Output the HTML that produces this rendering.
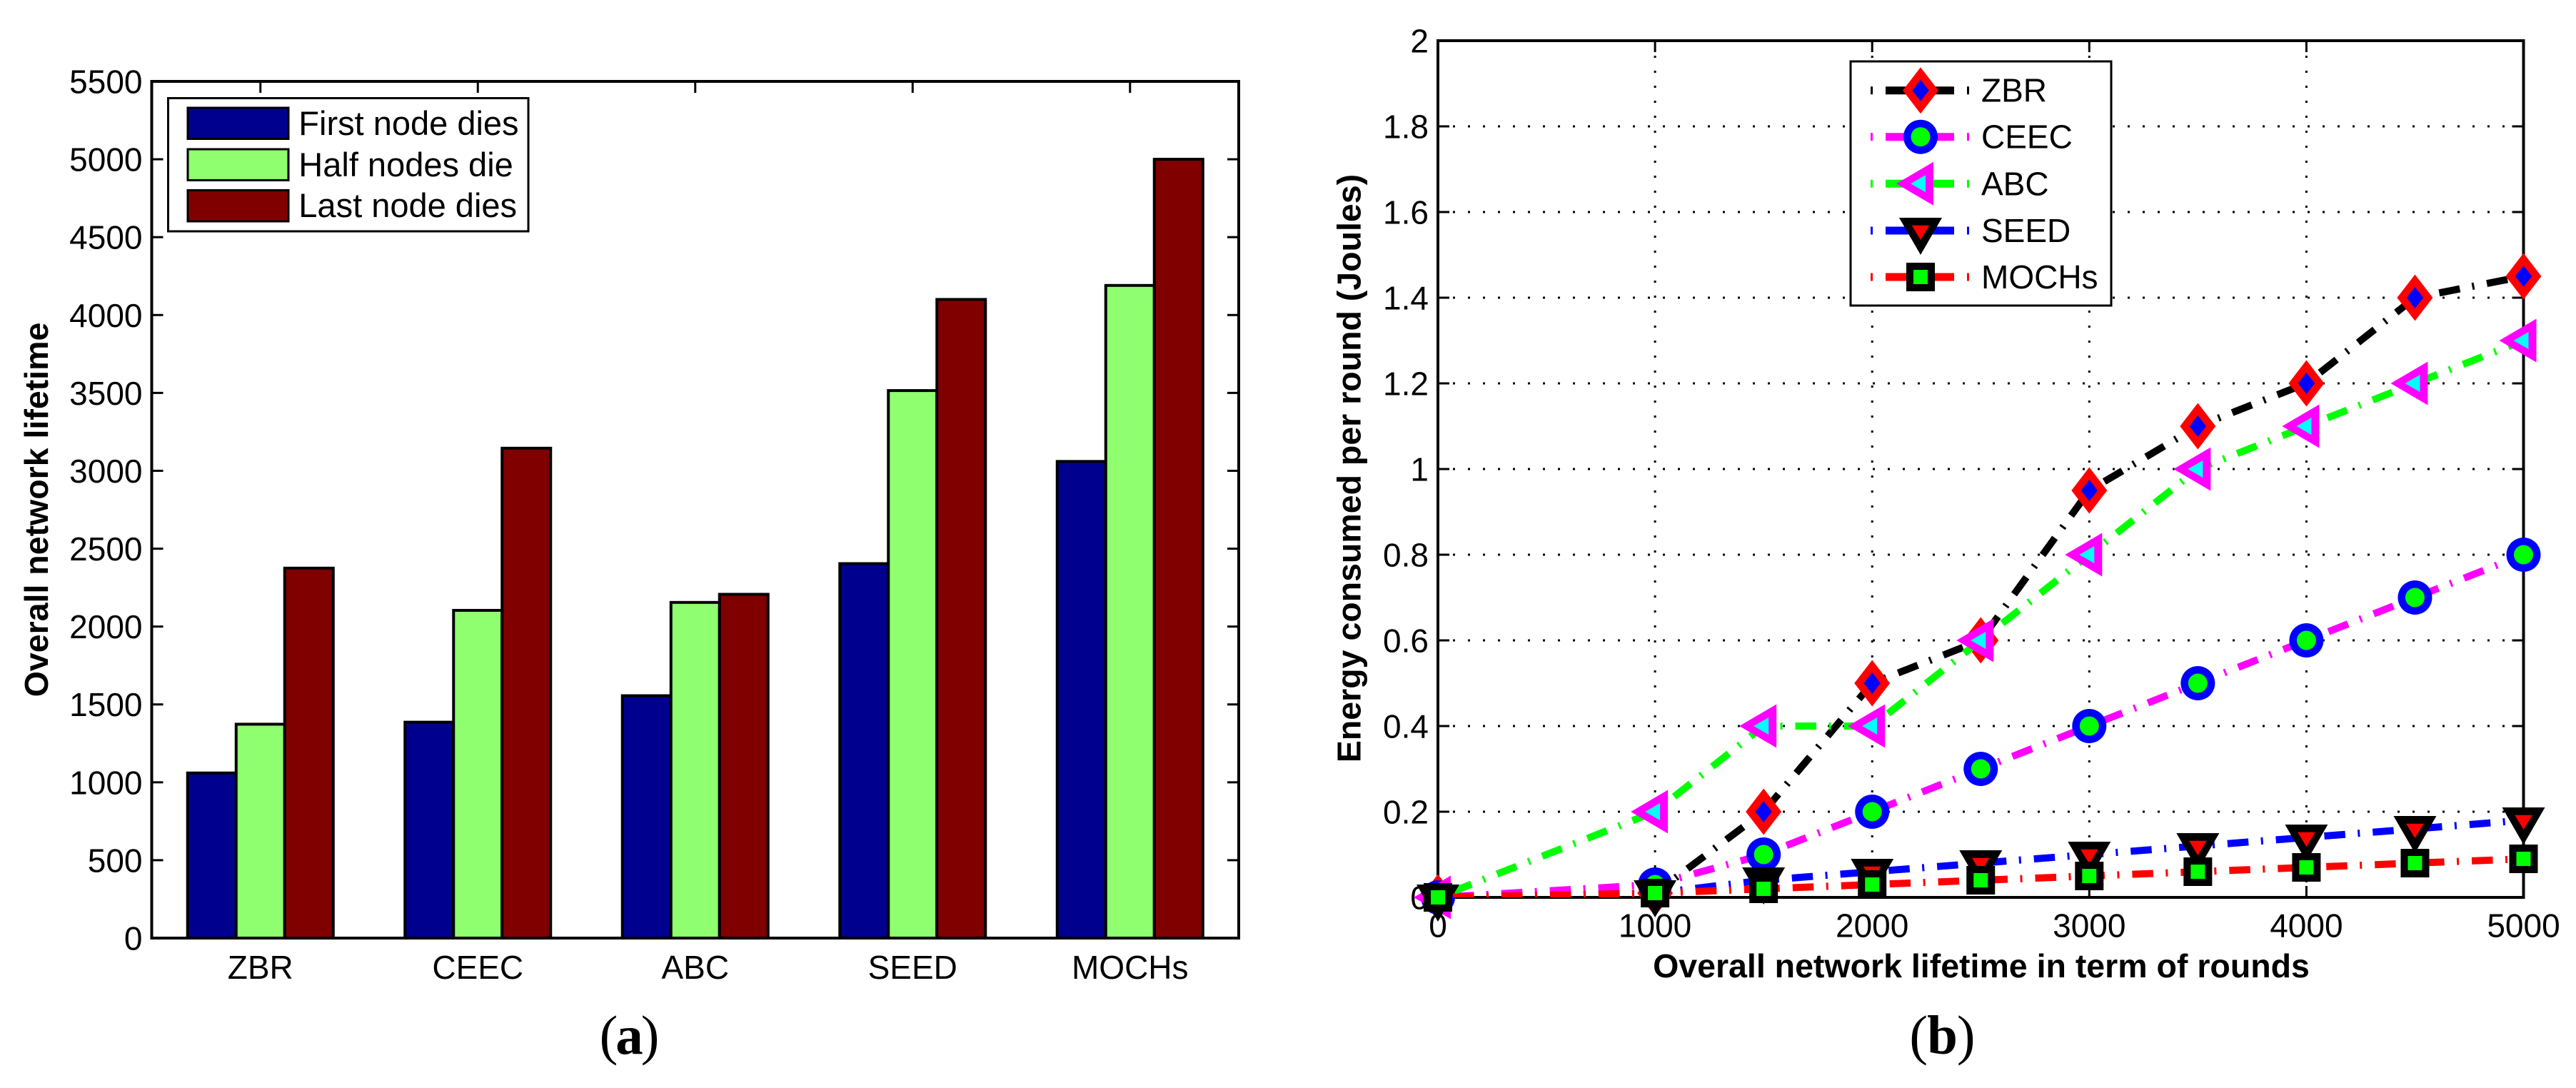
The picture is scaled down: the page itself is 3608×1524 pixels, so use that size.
<!DOCTYPE html>
<html lang="en">
<head>
<meta charset="utf-8">
<title>Network lifetime and energy consumption charts</title>
<style>
html,body{margin:0;padding:0;background:#fff;}
svg{display:block;}
text{font-family:"Liberation Sans",sans-serif;fill:#000;}
.tick{font-size:46px;}
.legend-a{font-size:47px;}
.title{font-size:46.5px;font-weight:bold;}
.cap{font-family:"Liberation Serif",serif;font-size:77px;}
</style>
</head>
<body>
<svg id="figure" xmlns="http://www.w3.org/2000/svg" width="3608" height="1524" viewBox="0 0 3608 1524">
  <defs>
    <clipPath id="plot-clip"><rect x="2014" y="57" width="1520.5" height="1200"/></clipPath>
  </defs>
  <rect x="0" y="0" width="3608" height="1524" fill="#fff"/>
  <g id="chart-a"></g>
  <g id="chart-b"></g>
  <text class="title" transform="translate(67,714) rotate(-90)" text-anchor="middle">Overall network lifetime</text>
  <text class="title" transform="translate(1905.5,656) rotate(-90)" text-anchor="middle">Energy consumed per round (Joules)</text>
  <text class="title" x="2775" y="1369" text-anchor="middle">Overall network lifetime in term of rounds</text>
  <text class="cap" x="880" y="1476" text-anchor="middle" letter-spacing="-3">(<tspan font-weight="bold">a</tspan>)</text>
  <text class="cap" x="2720" y="1476" text-anchor="middle" letter-spacing="-1">(<tspan font-weight="bold">b</tspan>)</text>
</svg>
<script>
/* ---------- bar chart data ---------- */
const barCategories = ['ZBR', 'CEEC', 'ABC', 'SEED', 'MOCHs'];
const barSeriesNames = ['First node dies', 'Half nodes die', 'Last node dies'];
const firstNodeDies = [1060, 1386, 1556, 2404, 3060];
const halfNodesDie = [1373, 2104, 2155, 3515, 4190];
const lastNodeDies = [2375, 3145, 2207, 4100, 5000];
const barYTicks = [0, 500, 1000, 1500, 2000, 2500, 3000, 3500, 4000, 4500, 5000, 5500];

/* ---------- line chart data ---------- */
const rounds = [0, 1000, 1500, 2000, 2500, 3000, 3500, 4000, 4500, 5000];
const lineSeriesNames = ['ZBR', 'CEEC', 'ABC', 'SEED', 'MOCHs'];
const zbrEnergy = [0, 0.01, 0.2, 0.5, 0.6, 0.95, 1.1, 1.2, 1.4, 1.45];
const ceecEnergy = [0, 0.03, 0.1, 0.2, 0.3, 0.4, 0.5, 0.6, 0.7, 0.8];
const abcEnergy = [0, 0.2, 0.4, 0.4, 0.6, 0.8, 1, 1.1, 1.2, 1.3];
const seedEnergy = [0, 0.01, 0.04, 0.06, 0.08, 0.1, 0.12, 0.14, 0.16, 0.18];
const mochsEnergy = [0, 0.01, 0.02, 0.03, 0.04, 0.05, 0.06, 0.07, 0.08, 0.09];
const lineXTicks = [0, 1000, 2000, 3000, 4000, 5000];
const lineYTicks = [0, 0.2, 0.4, 0.6, 0.8, 1, 1.2, 1.4, 1.6, 1.8, 2];

const NS = 'http://www.w3.org/2000/svg';
function mk(parent, tag, attrs, txt) {
  const el = document.createElementNS(NS, tag);
  for (const k in attrs) el.setAttribute(k, attrs[k]);
  if (txt !== undefined) el.textContent = txt;
  parent.appendChild(el);
  return el;
}
function named(el, name) {
  
  
  return el;
}
function slug(s) { return String(s).toLowerCase().replace(/[^a-z0-9]+/g, '-'); }
function axisLine(g, x1, y1, x2, y2, name) {
  return named(mk(g, 'line', {x1, y1, x2, y2, stroke: '#000', 'stroke-width': 3}), name);
}

/* ---------- bar chart ---------- */
(function () {
  const g = document.getElementById('chart-a');
  const L = 212.5, R = 1735, T = 114, B = 1314, TL = 16;
  const barY = v => B - v * (B - T) / 5500;
  const catX = i => L + (i + 0.5) * (R - L) / barCategories.length;
  const barW = 68;
  const values = [firstNodeDies, halfNodesDie, lastNodeDies];
  const colors = ['#00008f', '#8fff70', '#800000'];

  barYTicks.forEach(v => {
    axisLine(g, L, barY(v), L + TL, barY(v), 'y-tick-left-' + v);
    axisLine(g, R, barY(v), R - TL, barY(v), 'y-tick-right-' + v);
    named(mk(g, 'text', {class: 'tick', x: 199.5, y: barY(v) + 16.5, 'text-anchor': 'end'}, v), 'y-tick-label-' + v);
  });
  barCategories.forEach((c, i) => {
    axisLine(g, catX(i), T, catX(i), T + TL, 'x-tick-top-' + slug(c));
    named(mk(g, 'text', {class: 'tick', x: catX(i), y: 1371, 'text-anchor': 'middle'}, c), 'x-tick-label-' + slug(c));
    values.forEach((arr, s) => {
      const y = barY(arr[i]);
      const bar = mk(g, 'rect', {
        x: catX(i) + (s - 1.5) * barW, y: y, width: barW, height: B - y,
        fill: colors[s], stroke: '#000', 'stroke-width': 4
      });
      named(bar, 'bar-' + slug(c) + '-' + slug(barSeriesNames[s]));
    });
  });
  named(mk(g, 'rect', {x: L, y: T, width: R - L, height: B - T, fill: 'none', stroke: '#000', 'stroke-width': 4}), 'plot-frame');

  const lg = named(mk(g, 'g', {}), 'legend');
  mk(lg, 'rect', {x: 235.5, y: 137.5, width: 504.5, height: 186.5, fill: '#fff', stroke: '#000', 'stroke-width': 3});
  const legendSwatchTop = [151, 209, 266.5];
  const legendBaseline = [189, 247, 304];
  barSeriesNames.forEach((n, s) => {
    named(mk(lg, 'rect', {x: 263, y: legendSwatchTop[s], width: 141, height: 43.5, fill: colors[s], stroke: '#000', 'stroke-width': 3}), 'legend-swatch-' + slug(n));
    named(mk(lg, 'text', {class: 'legend-a', x: 418.3, y: legendBaseline[s]}, n), 'legend-label-' + slug(n));
  });
})();

/* ---------- line chart ---------- */
(function () {
  const g = document.getElementById('chart-b');
  const L = 2014, R = 3534.5, T = 57, B = 1257, TL = 16;
  const sx = v => L + v * (R - L) / 5000;
  const sy = v => B - v * (B - T) / 2;
  const series = [zbrEnergy, ceecEnergy, abcEnergy, seedEnergy, mochsEnergy];
  const lineColors = ['#000', '#f0f', '#0f0', '#00f', '#f00'];
  const DASH = '3 18 29.5 17.5';

  function marker(p, i, x, y) {
    const poly = (pts, fill) => mk(p, 'polygon', {
      points: pts.map(q => (x + q[0]) + ',' + (y + q[1])).join(' '), fill: fill
    });
    if (i === 0) {
      poly([[0, -32.5], [25, 0], [0, 32.5], [-25, 0]], '#f00');
      poly([[0, -15], [11.7, 0], [0, 15], [-11.7, 0]], '#00f');
    } else if (i === 1) {
      mk(p, 'circle', {cx: x, cy: y, r: 24, fill: '#00f'});
      mk(p, 'circle', {cx: x, cy: y, r: 13.5, fill: '#0f0'});
    } else if (i === 2) {
      poly([[-34, 0], [18, -30.5], [18, 30.5]], '#f0f');
      poly([[-14, 0], [7, -12], [7, 12]], '#0ff');
    } else if (i === 3) {
      poly([[-30, -18], [30, -18], [0, 34]], '#000');
      poly([[-12.3, -7.3], [12.3, -7.3], [0, 13]], '#f00');
    } else {
      poly([[-20, -20], [20, -20], [20, 20], [-20, 20]], '#000');
      poly([[-10, -10], [10, -10], [10, 10], [-10, 10]], '#0f0');
    }
  }

  lineYTicks.forEach(v => {
    if (v > 0 && v < 2) {
      named(mk(g, 'line', {x1: L, y1: sy(v), x2: R, y2: sy(v), stroke: '#000', 'stroke-width': 3, 'stroke-dasharray': '3 18'}), 'grid-horizontal-' + v);
    }
    axisLine(g, L, sy(v), L + TL, sy(v), 'y-tick-left-' + v);
    axisLine(g, R, sy(v), R - TL, sy(v), 'y-tick-right-' + v);
    named(mk(g, 'text', {class: 'tick', x: 2001, y: sy(v) + 16.5, 'text-anchor': 'end'}, v), 'y-tick-label-' + v);
  });
  lineXTicks.forEach(v => {
    if (v > 0 && v < 5000) {
      named(mk(g, 'line', {x1: sx(v), y1: T, x2: sx(v), y2: B, stroke: '#000', 'stroke-width': 3, 'stroke-dasharray': '3 18'}), 'grid-vertical-' + v);
    }
    axisLine(g, sx(v), T, sx(v), T + TL, 'x-tick-top-' + v);
    axisLine(g, sx(v), B, sx(v), B - TL, 'x-tick-bottom-' + v);
    named(mk(g, 'text', {class: 'tick', x: sx(v), y: 1312.5, 'text-anchor': 'middle'}, v), 'x-tick-label-' + v);
  });
  named(mk(g, 'rect', {x: L, y: T, width: R - L, height: B - T, fill: 'none', stroke: '#000', 'stroke-width': 4}), 'plot-frame');

  series.forEach((vals, i) => {
    const name = slug(lineSeriesNames[i]);
    const sg = named(mk(g, 'g', {}), 'series-' + name);
    const pts = vals.map((v, k) => sx(rounds[k]) + ',' + sy(v)).join(' ');
    named(mk(sg, 'polyline', {
      points: pts, fill: 'none', stroke: lineColors[i], 'stroke-width': 10,
      'stroke-dasharray': DASH, 'clip-path': 'url(#plot-clip)'
    }), 'line-' + name);
    vals.forEach((v, k) => {
      const mg = named(mk(sg, 'g', {}), 'marker-' + name + '-' + rounds[k]);
      marker(mg, i, sx(rounds[k]), sy(v));
    });
  });

  const lg = named(mk(g, 'g', {}), 'legend');
  mk(lg, 'rect', {x: 2592, y: 86, width: 365, height: 342, fill: '#fff', stroke: '#000', 'stroke-width': 3});
  const rowY = [126.7, 191.7, 257.3, 323, 388];
  lineSeriesNames.forEach((n, i) => {
    const y = rowY[i];
    const row = named(mk(lg, 'g', {}), 'legend-entry-' + slug(n));
    mk(row, 'line', {x1: 2620, y1: y, x2: 2623, y2: y, stroke: lineColors[i], 'stroke-width': 11});
    mk(row, 'line', {x1: 2641, y1: y, x2: 2737, y2: y, stroke: lineColors[i], 'stroke-width': 11});
    mk(row, 'line', {x1: 2755, y1: y, x2: 2758, y2: y, stroke: lineColors[i], 'stroke-width': 11});
    marker(row, i, 2690, y);
    named(mk(row, 'text', {class: 'tick', x: 2775, y: y + 16}, n), 'legend-label-' + slug(n));
  });
})();
</script>
</body>
</html>
